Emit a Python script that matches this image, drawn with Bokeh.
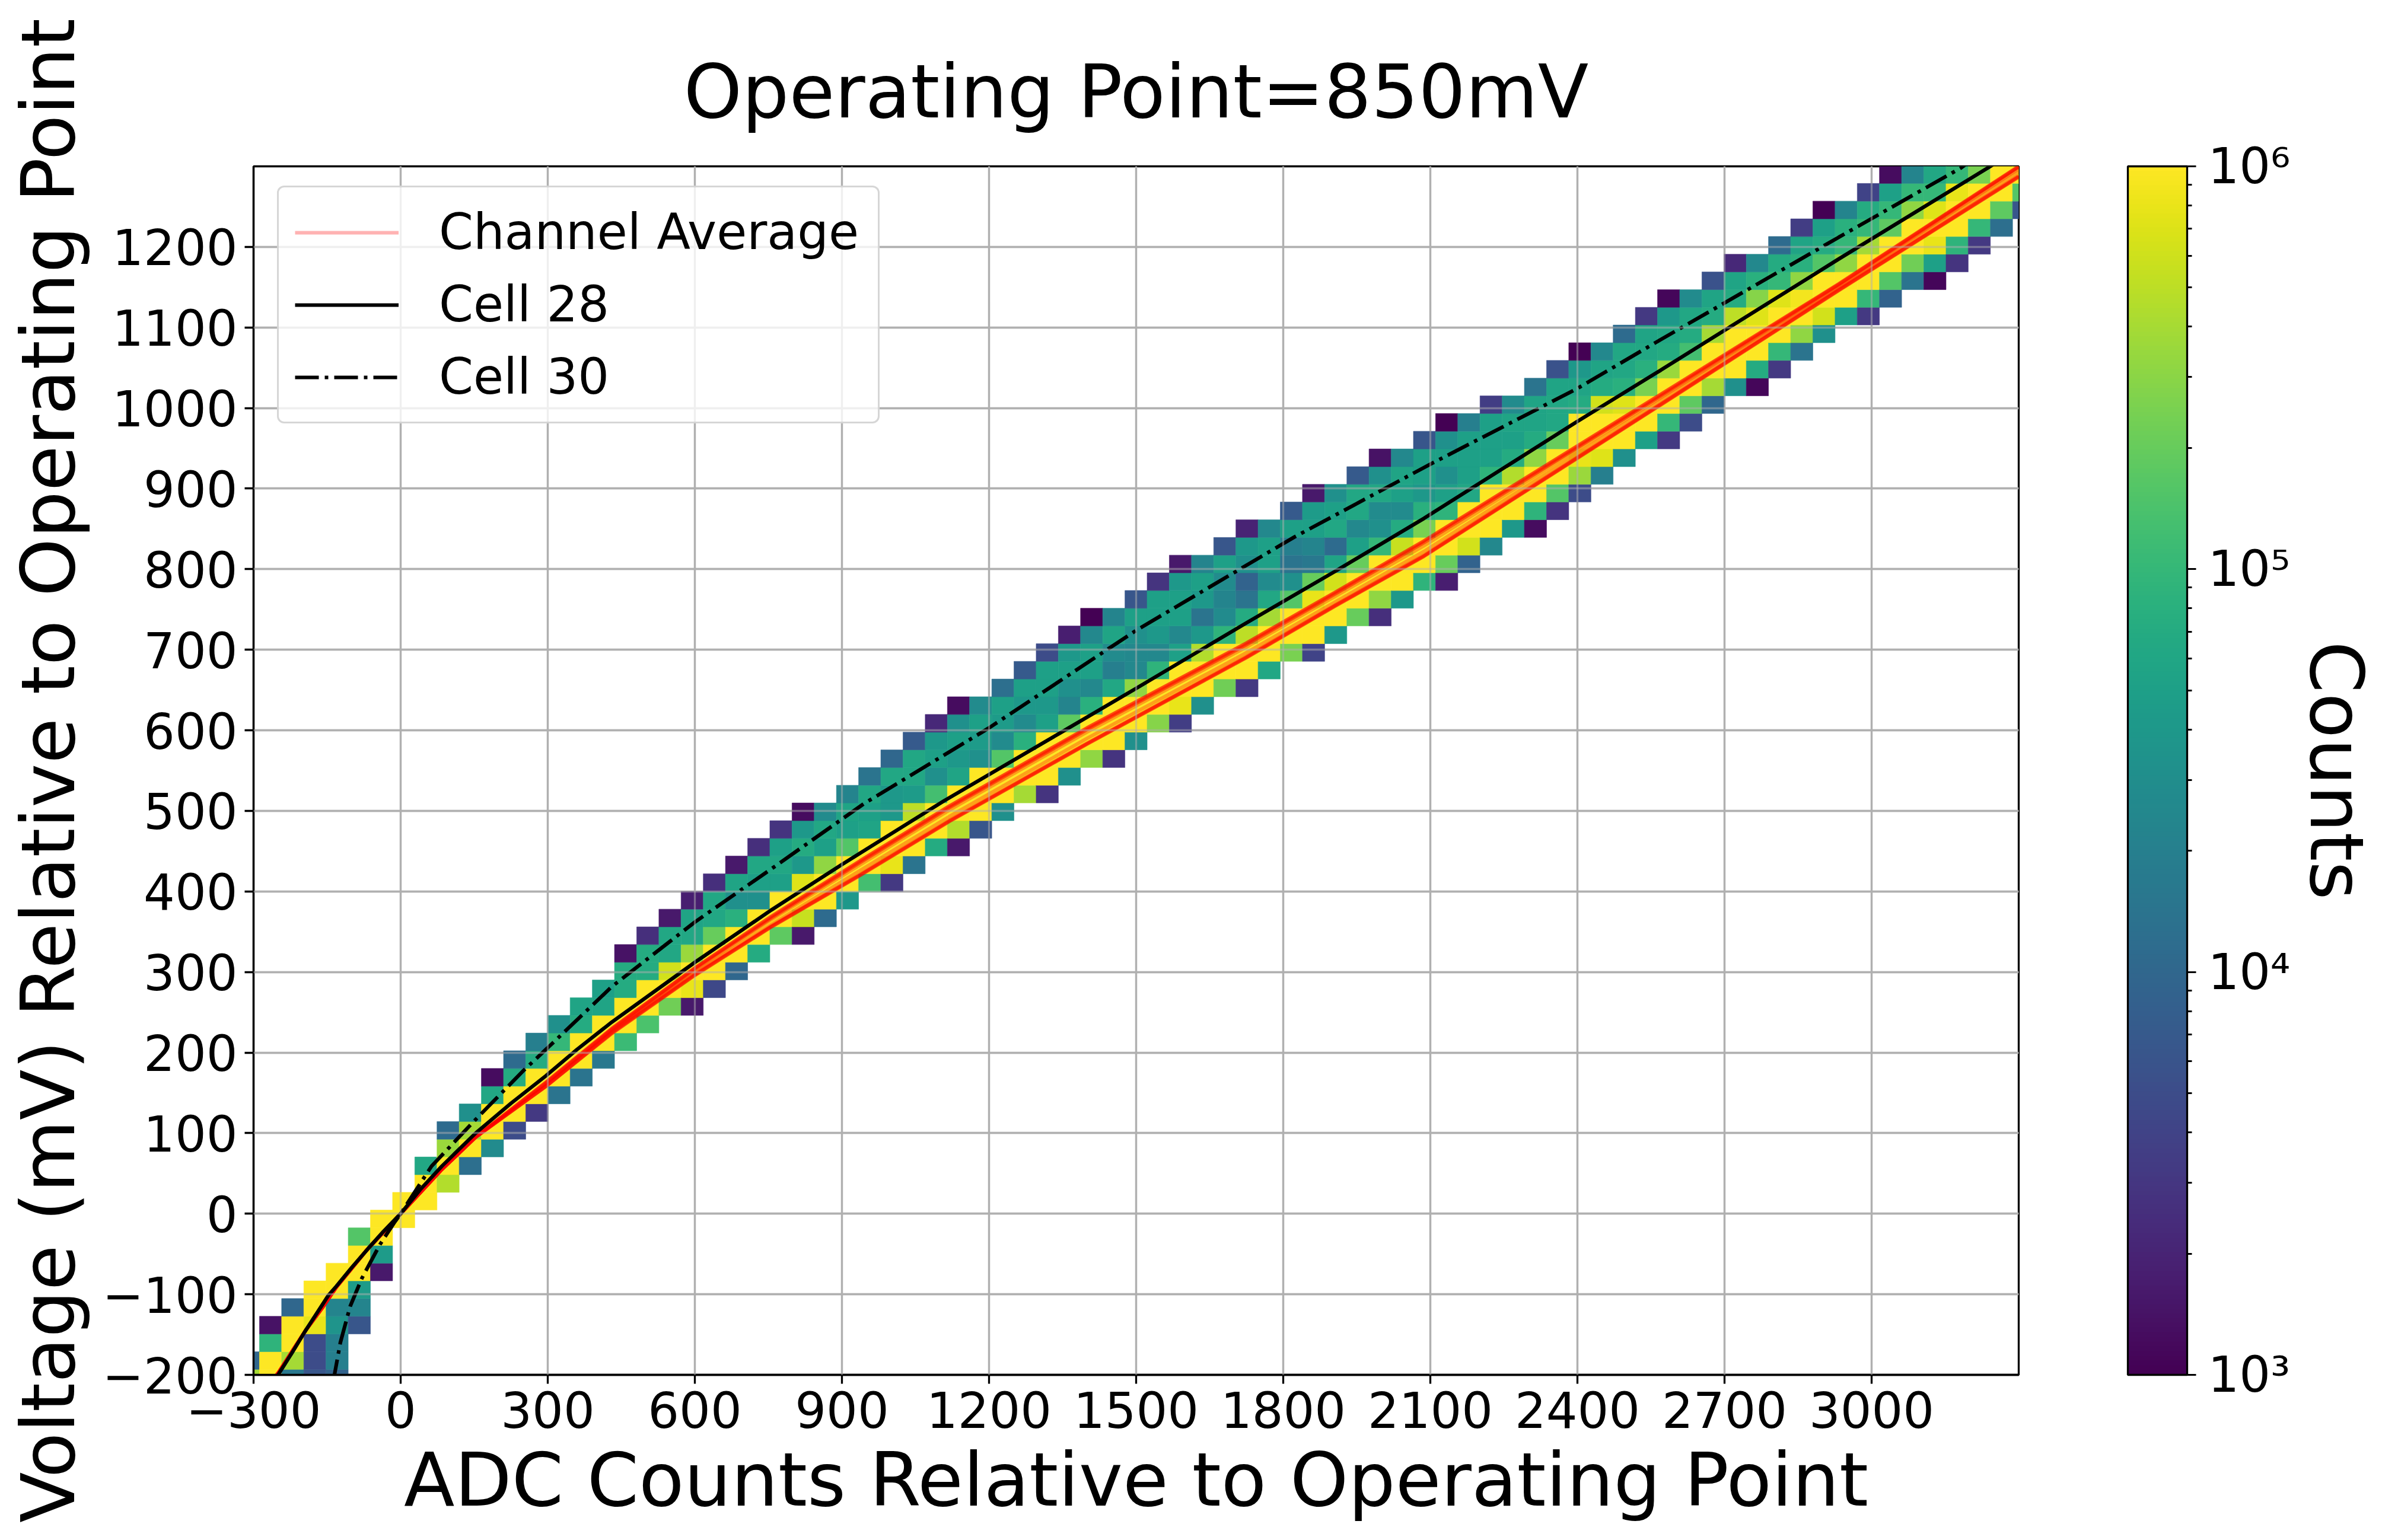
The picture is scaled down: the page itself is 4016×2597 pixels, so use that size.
from bokeh.plotting import figure
from bokeh.models import (Range1d, FixedTicker, Grid, Legend, LegendItem, ColorBar, LogColorMapper,
                          ColumnDataSource, LinearAxis)
from bokeh.palettes import Viridis256
from bokeh.transform import log_cmap
from bokeh.embed import file_html
from bokeh.resources import INLINE

TITLE = "Operating Point=850mV"
XLABEL = "ADC Counts Relative to Operating Point"
YLABEL = "Voltage (mV) Relative to Operating Point"
CBAR_LABEL = "Counts"
x_ticks = list(range(-300, 3001, 300))
y_ticks = list(range(-200, 1201, 100))

# 2-D histogram: bin edges, then for every column its lowest filled row and log10(counts) going up
x_edge0, x_bin = -333.26, 45.26
y_edge0, y_bin = -215.17, 21.97
col_first_row = [0, 0, 0, 0, 0, 3, 6, 9, 10, 11, 12, 13, 14, 15, 16, 17, 18, 19, 20, 21, 21, 22, 23, 24,
                 25, 25, 26, 27, 28, 28, 29, 30, 30, 31, 32, 33, 33, 34, 35, 35, 36, 37, 37, 38, 39, 39,
                 40, 41, 41, 42, 43, 43, 44, 45, 45, 46, 47, 48, 48, 49, 50, 51, 52, 53, 53, 54, 55, 56,
                 56, 57, 58, 59, 60, 60, 61, 62, 62, 63, 64, 65, 66]
col_log_counts = [
    [5.6, 4.0],
    [6, 6, 4.95, 3.15],
    [4.2, 5.6, 6, 6, 4.0],
    [3.8, 3.7, 3.7, 5.9, 6, 6],
    [3.95, 4.3, 4.3, 4.55, 4.35, 6, 6],
    [3.8, 4.35, 4.65, 6, 6, 5.2],
    [3.2, 4.65, 6, 6],
    [6, 6],
    [6, 6, 4.8],
    [5.65, 6, 5.55, 4.05],
    [4.1, 6, 5.6, 4.5],
    [4.45, 6, 6, 4.8, 3.1],
    [3.7, 6, 6, 4.85, 4.05],
    [3.5, 6, 6, 4.85, 4.3],
    [4.15, 6, 6, 5.0, 4.5],
    [4.15, 6, 6, 4.85, 4.75],
    [4.2, 6, 6, 4.75, 4.7],
    [5.05, 6, 6, 4.85, 4.85, 3.15],
    [5.15, 6, 6, 4.85, 4.85, 3.4],
    [5.35, 6, 5.8, 4.8, 4.8, 3.2],
    [3.2, 5.9, 6, 5.55, 4.8, 4.75, 3.25],
    [3.65, 6, 6, 5.3, 4.8, 4.8, 3.4],
    [4.0, 6, 6, 4.9, 4.5, 4.75, 3.2],
    [4.85, 6, 6, 4.5, 4.7, 4.8, 3.4],
    [5.25, 6, 6, 4.7, 4.8, 4.7, 3.45],
    [3.2, 5.75, 6, 5.85, 4.6, 4.85, 4.6, 3.1],
    [4.05, 6, 6, 5.5, 4.7, 4.8, 4.45],
    [4.6, 6, 6, 5.2, 4.7, 4.75, 4.35],
    [5.1, 6, 6, 4.75, 4.7, 4.8, 4.15],
    [3.5, 5.9, 6, 6, 4.6, 4.6, 4.8, 4.0],
    [4.15, 6, 6, 5.7, 4.65, 4.8, 4.8, 3.85],
    [4.85, 6, 6, 5.1, 4.5, 4.7, 4.6, 3.35],
    [3.2, 5.65, 6, 6, 4.75, 4.6, 4.7, 4.5, 3.1],
    [3.8, 6, 6, 6, 4.5, 4.65, 4.7, 4.45],
    [4.5, 6, 6, 5.2, 4.45, 4.65, 4.7, 4.1],
    [5.6, 6, 6, 4.9, 4.45, 4.6, 4.7, 3.85],
    [3.45, 6, 6, 6, 4.7, 4.6, 4.7, 4.7, 3.7],
    [4.5, 6, 6, 5.25, 4.35, 4.5, 4.7, 4.6, 3.25],
    [5.5, 6, 6, 4.9, 4.4, 4.7, 4.7, 4.4, 3.0],
    [3.45, 6, 6, 6, 4.8, 4.3, 4.45, 4.75, 4.35],
    [4.5, 6, 6, 5.5, 4.4, 4.4, 4.5, 4.7, 3.8],
    [5.45, 6, 6, 4.95, 4.4, 4.6, 4.7, 4.7, 3.45],
    [3.55, 5.9, 6, 6, 4.7, 4.4, 4.7, 4.7, 4.6, 3.2],
    [4.5, 6, 6, 5.65, 4.6, 4.15, 4.6, 4.7, 4.35],
    [5.35, 6, 6, 4.95, 4.45, 4.35, 4.45, 4.7, 3.8],
    [3.5, 6, 6, 5.7, 4.85, 4.15, 3.95, 4.5, 4.6, 3.3],
    [4.8, 6, 6, 5.6, 4.8, 4.45, 4.7, 4.7, 4.4],
    [5.4, 6, 6, 5.2, 4.5, 4.15, 4.3, 4.7, 3.85],
    [3.6, 6, 6, 5.9, 5.3, 4.2, 4.35, 4.7, 4.65, 3.2],
    [4.6, 6, 6, 5.8, 4.75, 4.05, 4.8, 4.7, 4.5],
    [5.3, 6, 6, 5.3, 4.7, 4.4, 4.8, 4.8, 3.85],
    [3.4, 5.5, 6, 6, 5.0, 4.5, 4.45, 4.8, 4.5, 3.15],
    [4.6, 6, 6, 5.75, 4.85, 4.45, 4.7, 4.75, 4.4],
    [4.95, 6, 6, 5.4, 4.9, 4.6, 4.7, 4.7, 3.8],
    [3.25, 5.3, 6, 6, 4.95, 4.7, 4.5, 4.7, 4.5, 3.0],
    [3.95, 5.8, 6, 6, 4.8, 4.7, 4.7, 4.7, 4.3],
    [4.4, 6, 6, 6, 4.95, 4.7, 4.7, 4.7, 3.55],
    [4.6, 6, 6, 5.65, 4.85, 4.7, 4.75, 4.45],
    [3.1, 4.95, 6, 6, 5.5, 4.85, 4.75, 4.75, 4.15],
    [3.45, 5.2, 6, 6, 5.3, 4.8, 4.8, 4.75, 3.75],
    [3.7, 5.55, 5.9, 6, 6, 4.85, 4.75, 4.6, 3.0],
    [4.3, 5.85, 6, 6, 5.8, 4.85, 4.75, 4.4],
    [4.5, 6, 6, 5.85, 4.9, 4.8, 4.8, 4.05],
    [4.7, 6, 6, 5.4, 4.9, 4.8, 4.75, 3.5],
    [3.5, 5.0, 6, 6, 5.55, 4.85, 4.8, 4.6, 3.05],
    [3.7, 5.25, 6, 6, 5.1, 4.85, 4.8, 4.45],
    [4.0, 5.6, 6, 6, 5.6, 4.85, 4.75, 3.75],
    [4.5, 6, 6, 6, 5.7, 4.85, 4.75, 3.35],
    [3.05, 4.85, 6, 6, 5.85, 5.45, 4.9, 4.4],
    [3.5, 5.0, 6, 6, 5.85, 5.0, 4.85, 4.05],
    [4.15, 5.5, 6, 5.95, 5.5, 4.9, 4.75, 3.55],
    [4.5, 5.8, 6, 6, 5.2, 4.85, 4.7, 3.0],
    [4.7, 6, 6, 5.5, 5.0, 4.9, 4.35],
    [3.5, 5.0, 6, 6, 5.6, 5.0, 4.85, 3.6],
    [3.95, 5.2, 6, 6, 5.25, 5.0, 4.7, 3.1],
    [4.15, 5.35, 6, 6, 5.5, 5.0, 4.35],
    [3.05, 4.7, 5.9, 6, 5.85, 5.0, 4.8],
    [3.45, 4.95, 6, 6, 5.9, 5.0],
    [3.5, 5.0, 6, 6, 5.4],
    [4.1, 5.25, 6, 6],
    [3.8, 5.2, 6],
]

# curves
avg_x = [-270, -250, -194, -159, -131, -69, 0, 84, 153, 296, 431, 600, 756, 937, 1119, 1400, 1724, 1905, 2087, 2570, 2933, 3300]
avg_low_end = [-212, -198, -145, -116, -91, -45, 0, 55, 95]
avg_upper_a = avg_low_end + [163, 230, 305, 369, 438, 506, 603, 708, 771, 835, 1017, 1154, 1300]
avg_upper_b = avg_low_end + [162, 229, 304, 367, 436, 504, 601, 706, 769, 833, 1015, 1153, 1299]
avg_mid_a = avg_low_end + [161, 228, 302, 365, 433, 501, 598, 703, 766, 829, 1013, 1151, 1297]
avg_mid_b = avg_low_end + [160, 227, 300, 362, 430, 497, 594, 699, 762, 825, 1011, 1150, 1295]
avg_mid_c = avg_low_end + [159, 226, 299, 359, 426, 493, 590, 696, 759, 822, 1009, 1149, 1293]
avg_lower_b = avg_low_end + [158, 225, 297, 357, 421, 488, 584, 691, 755, 817, 1005, 1147, 1288]
avg_lower_a = avg_low_end + [158, 224, 296, 356, 420, 487, 583, 690, 754, 816, 1004, 1146, 1287]

cell28_x = [-262, -250, -222, -196, -147, -131, -100, -66, -35, 0, 40, 84, 153, 225, 296, 360, 431, 600, 756, 899, 1107, 1343, 1500, 1724, 1905, 2087, 2399, 2570, 2933, 3237, 3260]
cell28_y = [-210, -200, -173, -147, -101, -90, -67, -43, -22, 0, 30, 59, 100, 137, 171, 204, 238, 312, 377, 433, 512, 596, 652, 733, 797, 863, 983, 1047, 1185, 1298, 1307]
cell30_x = [-138, -135, -123, -103, -79, -42, -14, 0, 63, 153, 251, 300, 431, 600, 756, 945, 1200, 1500, 1823, 2099, 2399, 2570, 2933, 3182, 3200]
cell30_y = [-210, -200, -160, -115, -80, -38, -12, 0, 59, 117, 178, 206, 282, 362, 428, 509, 603, 724, 840, 930, 1024, 1085, 1212, 1298, 1306]

left, right, bottom, top, counts = [], [], [], [], []
for col, (first, values) in enumerate(zip(col_first_row, col_log_counts)):
    for offset, v in enumerate(values):
        row = first + offset
        left.append(x_edge0 + col * x_bin)
        right.append(x_edge0 + (col + 1) * x_bin)
        bottom.append(y_edge0 + row * y_bin)
        top.append(y_edge0 + (row + 1) * y_bin)
        counts.append(10 ** v)
source = ColumnDataSource(dict(left=left, right=right, bottom=bottom, top=top, counts=counts))

p = figure(frame_width=2976, frame_height=2038, min_border_left=427, min_border_right=589,
           min_border_top=280, min_border_bottom=263, x_range=Range1d(-300, 3300), y_range=Range1d(-200, 1300),
           output_backend="svg", toolbar_location=None, background_fill_color="white", border_fill_color="white")

p.title.text = TITLE
p.title.align = "center"
p.title.text_font = "DejaVu Sans"
p.title.text_font_size = "125px"
p.title.text_font_style = "normal"
p.title.text_color = "black"
p.title.standoff = 108

p.outline_line_color = "black"
p.outline_line_width = 3.3
p.outline_line_alpha = 1

for axis, ticks, label in ((p.xaxis[0], x_ticks, XLABEL), (p.yaxis[0], y_ticks, YLABEL)):
    axis.ticker = FixedTicker(ticks=ticks)
    axis.major_label_overrides = {t: str(t).replace("-", "\u2212") for t in ticks}
    axis.axis_label = label
    axis.axis_label_text_font = "DejaVu Sans"
    axis.axis_label_text_font_size = "125px"
    axis.axis_label_text_font_style = "normal"
    axis.axis_label_text_color = "black"
    axis.major_label_text_font = "DejaVu Sans"
    axis.major_label_text_font_size = "83px"
    axis.major_label_text_color = "black"
    axis.major_tick_out = 15
    axis.major_tick_in = 0
    axis.minor_tick_out = 0
    axis.minor_tick_in = 0
    axis.major_tick_line_width = 3.3
    axis.major_tick_line_color = "black"
    axis.axis_line_width = 3.3
    axis.axis_line_color = "black"
    axis.major_label_standoff = 12
    axis.axis_label_standoff = 12
p.yaxis[0].axis_label_standoff = 16

for grid, ticks in ((p.xgrid[0], x_ticks), (p.ygrid[0], y_ticks)):
    grid.ticker = FixedTicker(ticks=ticks)
    grid.grid_line_color = "#b0b0b0"
    grid.grid_line_width = 3.3

mapper = log_cmap("counts", Viridis256, 1e3, 1e6)
p.quad(left="left", right="right", bottom="bottom", top="top", source=source, fill_color=mapper,
       line_color=mapper, line_width=0.6)

avg_curves = [avg_upper_a, avg_upper_a, avg_upper_a, avg_upper_b, avg_upper_b, avg_mid_a, avg_mid_c,
              avg_lower_b, avg_lower_b, avg_lower_a, avg_lower_a, avg_lower_a]
avg_renderers = [p.line(avg_x, c, line_color="red", line_alpha=0.3, line_width=6) for c in avg_curves]
r28 = p.line(cell28_x, cell28_y, line_color="black", line_width=6.2)
r30 = p.line(cell30_x, cell30_y, line_color="black", line_width=6.2, line_dash="40 10 6 10")

for dim, ticks in ((0, x_ticks), (1, y_ticks)):
    p.add_layout(Grid(dimension=dim, ticker=FixedTicker(ticks=ticks), level="guide", grid_line_color="#b0b0b0",
                      grid_line_alpha=0.5, grid_line_width=3.3))

legend = Legend(items=[LegendItem(label="Channel Average", renderers=[avg_renderers[0]]),
                       LegendItem(label="Cell 28", renderers=[r28]),
                       LegendItem(label="Cell 30", renderers=[r30])],
                location=(40, 1604), glyph_width=175, glyph_height=92, label_height=92, label_width=713,
                label_standoff=68, spacing=25, padding=27, margin=0,
                label_text_font="DejaVu Sans", label_text_font_size="83px", label_text_color="black",
                background_fill_color="white", background_fill_alpha=0.8,
                border_line_color="#cccccc", border_line_alpha=0.8, border_line_width=3.3,
                border_radius=12)
p.add_layout(legend)

cbar_mapper = LogColorMapper(palette=Viridis256, low=1e3, high=1e6)
major = [1e3, 1e4, 1e5, 1e6]
minor = [m * d for d in (1e3, 1e4, 1e5) for m in (2, 3, 4, 5, 6, 7, 8, 9)]
cbar = ColorBar(color_mapper=cbar_mapper, ticker=FixedTicker(ticks=major, minor_ticks=minor),
                major_label_overrides={1000: "10\u00b3", 10000: "10\u2074", 100000: "10\u2075", 1000000: "10\u2076"},
                location=(3160, 0), width=100, height=2038, padding=0, margin=0,
                major_label_text_font="DejaVu Sans", major_label_text_font_size="83px", major_label_text_color="black",
                label_standoff=20, major_tick_out=15, major_tick_in=0, minor_tick_out=8, minor_tick_in=0,
                major_tick_line_color="black", minor_tick_line_color="black", major_tick_line_width=3, minor_tick_line_width=3,
                bar_line_color="black", bar_line_width=3.3)
p.add_layout(cbar)

cbar_axis = LinearAxis(ticker=FixedTicker(ticks=[]), axis_label=CBAR_LABEL, axis_line_color=None,
                       major_tick_line_color=None, minor_tick_line_color=None, major_label_text_color=None,
                       axis_label_standoff=463, axis_label_text_font="DejaVu Sans", axis_label_text_font_size="125px",
                       axis_label_text_font_style="normal", axis_label_text_color="black")
p.add_layout(cbar_axis, "right")

open("out.html", "w").write(file_html(p, INLINE))
